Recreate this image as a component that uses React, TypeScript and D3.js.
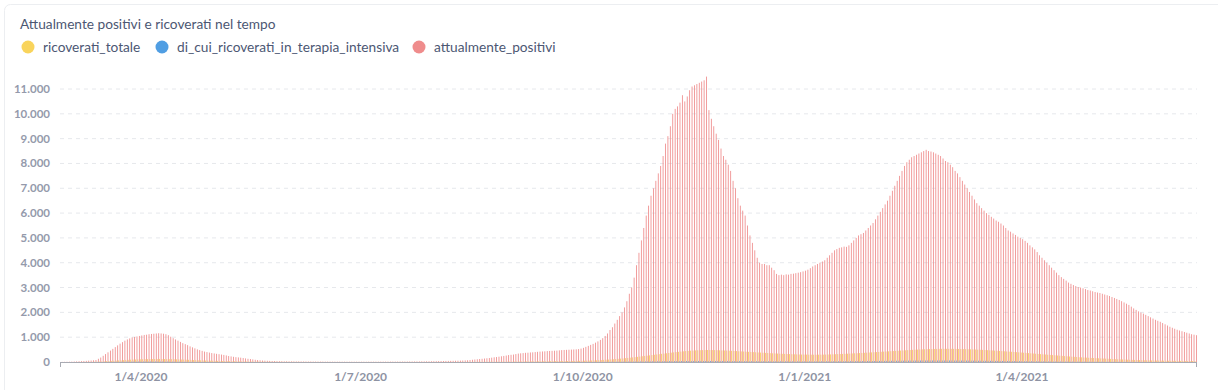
import * as d3 from 'd3'
import React from 'react'

// daily values, from 28/2/2020 to 12/6/2021
const startDay = new Date(2020, 1, 28)

const seriesNames = ['ricoverati_totale', 'di_cui_ricoverati_in_terapia_intensiva', 'attualmente_positivi']
const seriesColors = ['#F9D45C', '#509EE3', '#EF8C8C']

const attualmentePositivi = [
  5, 8,
  // mar 2020
  10, 12, 15, 20, 25, 30, 35, 40, 45, 55, 60, 70, 80, 130, 180, 250, 320, 390, 460, 530, 600, 670, 740, 800, 860, 910, 950, 990, 1010, 1030, 1050,
  // apr
  1070, 1090, 1100, 1120, 1130, 1140, 1150, 1160, 1150, 1140, 1120, 1080, 1020, 960, 910, 860, 810, 760, 720, 680, 630, 590, 550, 510, 480, 450, 420, 400, 380, 360,
  // may
  345, 330, 315, 300, 285, 265, 240, 225, 210, 195, 185, 175, 160, 145, 130, 120, 105, 90, 80, 70, 60, 55, 50, 45, 40, 38, 35, 33, 30, 28, 27,
  // jun
  26, 25, 24, 23, 22, 21, 20, 20, 19, 18, 18, 17, 17, 16, 16, 15, 15, 15, 14, 14, 14, 13, 13, 13, 12, 12, 12, 12, 12, 12,
  // jul
  12, 12, 12, 13, 13, 13, 14, 14, 14, 15, 15, 15, 16, 16, 17, 17, 18, 18, 19, 20, 20, 21, 22, 23, 24, 25, 26, 27, 28, 30, 32,
  // aug
  34, 36, 38, 40, 42, 44, 46, 48, 50, 53, 56, 60, 65, 70, 80, 90, 100, 110, 120, 130, 140, 150, 160, 175, 190, 200, 215, 230, 245, 260, 280,
  // sep
  290, 300, 320, 340, 350, 360, 370, 375, 385, 390, 400, 410, 420, 425, 430, 440, 445, 450, 455, 460, 470, 480, 485, 490, 495, 500, 505, 510, 520, 540,
  // oct
  570, 610, 650, 690, 730, 780, 830, 890, 960, 1050, 1150, 1290, 1400, 1550, 1700, 1850, 2000, 2200, 2450, 2750, 3000, 3400, 3900, 4400, 4900, 5400, 5900, 6300, 6700, 7000, 7300,
  // nov
  7600, 7900, 8300, 8800, 9100, 9500, 10000, 10200, 10300, 10450, 10750, 10500, 10700, 10950, 11100, 11150, 11200, 11250, 11300, 11350, 11500, 10150, 9800, 9500, 9200, 8950, 8600, 8300, 8150, 7950,
  // dec
  7700, 7300, 7000, 6600, 6300, 6100, 5900, 5500, 5100, 4800, 4500, 4200, 4000, 3950, 3950, 3900, 3900, 3800, 3700, 3550, 3500, 3520, 3500, 3530, 3520, 3550, 3560, 3580, 3600, 3620, 3650,
  // jan 2021
  3680, 3720, 3780, 3850, 3900, 3950, 4000, 4050, 4100, 4200, 4300, 4400, 4500, 4550, 4600, 4620, 4650, 4640, 4700, 4800, 4900, 5000, 5100, 5150, 5200, 5300, 5400, 5500, 5600, 5750, 5900,
  // feb
  6050, 6200, 6350, 6500, 6700, 6900, 7100, 7300, 7500, 7700, 7900, 8050, 8150, 8250, 8300, 8350, 8400, 8450, 8500, 8550, 8500, 8480, 8450, 8400, 8350, 8300, 8200, 8100,
  // mar
  8050, 7950, 7850, 7700, 7600, 7450, 7300, 7150, 7000, 6850, 6700, 6550, 6400, 6300, 6200, 6100, 6000, 5930, 5850, 5780, 5700, 5650, 5580, 5500, 5400, 5300, 5250, 5180, 5120, 5050, 5000,
  // apr
  4950, 4880, 4800, 4700, 4620, 4540, 4430, 4300, 4200, 4100, 4000, 3900, 3800, 3700, 3600, 3500, 3420, 3350, 3280, 3200, 3150, 3100, 3060, 3020, 3000, 2970, 2940, 2900, 2880, 2850,
  // may
  2820, 2800, 2780, 2750, 2720, 2690, 2660, 2620, 2580, 2540, 2500, 2450, 2400, 2350, 2300, 2230, 2160, 2100, 2040, 1990, 1950, 1900, 1850, 1800, 1750, 1700, 1660, 1620, 1570, 1520, 1470,
  // jun
  1420, 1380, 1340, 1300, 1270, 1240, 1210, 1180, 1150, 1120, 1100, 1080,
]

const ricoveratiTotale = [
  0, 0,
  0, 0, 0, 0, 1, 1, 2, 3, 4, 5, 6, 8, 10, 14, 18, 22, 28, 34, 40, 46, 52, 58, 64, 70, 76, 82, 88, 94, 98, 102, 106,
  110, 112, 114, 116, 118, 120, 121, 122, 122, 121, 120, 118, 116, 114, 111, 108, 104, 100, 96, 92, 88, 84, 80, 76, 72, 68, 64, 60, 57, 54,
  51, 48, 45, 42, 40, 38, 36, 34, 32, 30, 28, 26, 24, 22, 20, 19, 18, 17, 16, 15, 14, 13, 12, 11, 10, 10, 9, 9, 8, 8, 8,
  7, 7, 7, 6, 6, 6, 5, 5, 5, 5, 4, 4, 4, 4, 4, 3, 3, 3, 3, 3, 3, 3, 3, 3, 3, 3, 3, 3, 3, 3,
  3, 3, 3, 3, 3, 3, 3, 3, 3, 3, 3, 3, 3, 3, 3, 3, 4, 4, 4, 4, 4, 4, 4, 4, 4, 4, 4, 4, 4, 4, 4,
  4, 4, 4, 4, 5, 5, 5, 5, 5, 5, 6, 6, 6, 6, 7, 7, 7, 8, 8, 8, 9, 9, 10, 10, 11, 11, 12, 12, 13, 14, 15,
  16, 17, 18, 19, 20, 21, 22, 23, 24, 25, 26, 27, 28, 29, 30, 31, 32, 33, 34, 35, 36, 37, 38, 39, 40, 41, 42, 44, 46, 48,
  50, 52, 55, 58, 62, 66, 70, 75, 80, 86, 92, 98, 105, 112, 120, 128, 136, 145, 155, 165, 175, 186, 197, 208, 220, 232, 244, 256, 268, 280, 292,
  304, 316, 328, 340, 352, 364, 376, 388, 400, 410, 420, 430, 440, 448, 456, 462, 468, 472, 476, 480, 482, 484, 484, 482, 480, 476, 472, 468, 464, 460,
  455, 450, 445, 440, 434, 428, 422, 416, 410, 404, 398, 392, 386, 380, 374, 368, 362, 356, 350, 345, 340, 335, 330, 326, 322, 318, 314, 310, 306, 302, 300,
  300, 298, 296, 295, 294, 294, 295, 296, 298, 300, 303, 306, 310, 314, 318, 322, 326, 330, 335, 340, 345, 350, 355, 360, 365, 370, 376, 382, 388, 394, 400,
  406, 412, 418, 424, 430, 436, 442, 448, 454, 460, 466, 472, 478, 484, 490, 495, 500, 505, 510, 514, 518, 521, 524, 526, 528, 530, 531, 532,
  532, 532, 531, 530, 528, 526, 524, 521, 518, 515, 511, 507, 503, 498, 493, 488, 483, 477, 471, 465, 459, 453, 446, 439, 432, 425, 418, 411, 404, 397, 390,
  382, 374, 366, 358, 350, 342, 334, 326, 318, 310, 302, 294, 286, 278, 270, 262, 254, 246, 238, 230, 222, 215, 208, 201, 194, 188, 182, 176, 170, 165,
  160, 155, 150, 145, 140, 135, 130, 125, 120, 115, 110, 106, 102, 98, 94, 90, 86, 83, 80, 77, 74, 71, 68, 66, 64, 62, 60, 58, 56, 54, 52,
  50, 49, 48, 47, 46, 45, 44, 43, 42, 41, 40, 39,
]

const terapiaIntensiva = [
  0, 0,
  0, 0, 0, 0, 0, 0, 0, 0, 1, 1, 1, 2, 2, 3, 3, 4, 5, 6, 7, 8, 9, 10, 11, 12, 13, 14, 15, 16, 17, 18, 19,
  20, 20, 21, 21, 21, 21, 20, 20, 19, 19, 18, 17, 16, 15, 14, 13, 12, 11, 10, 10, 9, 8, 8, 7, 7, 6, 6, 5, 5, 5,
  4, 4, 4, 3, 3, 3, 3, 2, 2, 2, 2, 2, 2, 1, 1, 1, 1, 1, 1, 1, 1, 1, 1, 1, 1, 1, 0, 0, 0, 0, 0,
  0, 0, 0, 0, 0, 0, 0, 0, 0, 0, 0, 0, 0, 0, 0, 0, 0, 0, 0, 0, 0, 0, 0, 0, 0, 0, 0, 0, 0, 0,
  0, 0, 0, 0, 0, 0, 0, 0, 0, 0, 0, 0, 0, 0, 0, 0, 0, 0, 0, 0, 0, 0, 0, 0, 0, 0, 0, 0, 0, 0, 0,
  0, 0, 0, 0, 0, 0, 0, 0, 0, 0, 0, 0, 0, 0, 0, 0, 0, 0, 0, 0, 1, 1, 1, 1, 1, 1, 1, 1, 1, 1, 1,
  1, 1, 1, 1, 1, 1, 2, 2, 2, 2, 2, 2, 2, 2, 3, 3, 3, 3, 3, 3, 3, 4, 4, 4, 4, 4, 4, 5, 5, 5,
  5, 5, 6, 6, 6, 7, 7, 8, 8, 9, 9, 10, 10, 11, 12, 13, 14, 15, 16, 17, 18, 19, 20, 21, 22, 23, 24, 25, 26, 27, 28,
  29, 30, 31, 32, 33, 34, 35, 36, 37, 38, 39, 40, 40, 41, 41, 42, 42, 42, 42, 42, 41, 41, 40, 40, 39, 39, 38, 38, 37, 37,
  36, 36, 35, 35, 34, 34, 33, 33, 32, 32, 31, 31, 30, 30, 30, 29, 29, 29, 28, 28, 28, 27, 27, 27, 27, 26, 26, 26, 26, 26, 26,
  26, 26, 26, 26, 26, 26, 27, 27, 27, 28, 28, 28, 29, 29, 30, 30, 31, 31, 32, 32, 33, 33, 34, 35, 36, 37, 38, 39, 40, 41, 42,
  43, 44, 45, 46, 47, 48, 49, 50, 51, 52, 53, 54, 55, 56, 57, 58, 58, 59, 59, 60, 60, 60, 60, 60, 60, 60, 60, 60,
  60, 60, 59, 59, 58, 58, 57, 57, 56, 55, 54, 53, 52, 51, 50, 49, 48, 47, 46, 45, 44, 43, 42, 41, 40, 39, 38, 37, 36, 35, 34,
  33, 32, 31, 30, 29, 28, 27, 26, 25, 24, 23, 22, 21, 20, 19, 18, 18, 17, 17, 16, 16, 15, 15, 14, 14, 13, 13, 12, 12, 11,
  11, 11, 10, 10, 10, 9, 9, 9, 8, 8, 8, 7, 7, 7, 6, 6, 6, 6, 5, 5, 5, 5, 5, 4, 4, 4, 4, 4, 4, 3, 3,
  3, 3, 3, 3, 3, 3, 3, 3, 3, 3, 3, 3,
]

const yTicks = [0, 1000, 2000, 3000, 4000, 5000, 6000, 7000, 8000, 9000, 10000, 11000]
const xTickDates = [new Date(2020, 3, 1), new Date(2020, 6, 1), new Date(2020, 9, 1), new Date(2021, 0, 1), new Date(2021, 3, 1)]

const itLocale = d3.formatLocale({ decimal: ',', thousands: '.', grouping: [3], currency: ['€', ''] })
const fmtY = itLocale.format(',')
const fmtDate = d3.timeFormat('%-d/%-m/%Y')

const App = () => {
  const totalWidth = 1218
  const totalHeight = 390
  const left = 60
  const right = 1197
  const baseY = 362

  const n = attualmentePositivi.length
  const seriesData = [ricoveratiTotale, terapiaIntensiva, attualmentePositivi]

  const xScale = d3.scaleBand<number>().domain(d3.range(n)).range([left, right]).paddingInner(0.08).paddingOuter(0.1)
  const xInner = d3.scaleBand<number>().domain([0, 1, 2]).range([0, xScale.bandwidth()])
  const yScale = d3.scaleLinear().domain([0, 11000]).range([baseY, 89])

  const font = 'Lato, "Noto Sans", sans-serif'

  const legendX = [28, 162, 419]

  return (
    <div style={{ position: 'absolute', left: 0, top: 0 }}>
      <svg width={totalWidth} height={totalHeight} style={{ display: 'block' }}>
        <rect x={4.5} y={4.5} width={1230} height={400} rx={6} fill="#fff" stroke="#eceef1" />
        <text x={20} y={29} fontFamily={font} fontSize={13.7} fill="#4c5773">
          Attualmente positivi e ricoverati nel tempo
        </text>
        {seriesNames.map((name, i) => (
          <g key={name} transform={`translate(${legendX[i]},47)`}>
            <circle r={6.5} fill={seriesColors[i]} />
            <text x={15} y={4.5} fontFamily={font} fontSize={13.7} fill="#4c5773">
              {name}
            </text>
          </g>
        ))}

        {/* horizontal grid */}
        {yTicks.slice(1).map((t) => (
          <line key={t} x1={left} x2={right} y1={yScale(t)} y2={yScale(t)} stroke="#e6e8ec" strokeDasharray="4,4" />
        ))}
        {yTicks.map((t) => (
          <text
            key={'l' + t}
            x={50}
            y={yScale(t) + 4}
            textAnchor="end"
            fontFamily={font}
            fontWeight="bold"
            fontSize={11.5}
            fill="#949aab"
          >
            {fmtY(t)}
          </text>
        ))}

        {/* grouped bars */}
        {seriesData.map((vals, s) => (
          <g key={s} fill={seriesColors[s]}>
            {vals.map((v, i) =>
              v > 0 ? (
                <rect
                  key={i}
                  x={(xScale(i) as number) + (xInner(s) as number)}
                  y={yScale(v)}
                  width={xInner.bandwidth() * 1.15}
                  height={baseY - yScale(v)}
                />
              ) : null
            )}
          </g>
        ))}

        {/* x axis */}
        <line x1={left} x2={right} y1={baseY + 0.5} y2={baseY + 0.5} stroke="#a9abb3" />
        <line x1={left + 0.5} x2={left + 0.5} y1={baseY} y2={baseY + 5} stroke="#a9abb3" />
        <line x1={right - 0.5} x2={right - 0.5} y1={baseY} y2={baseY + 5} stroke="#a9abb3" />
        {xTickDates.map((d) => {
          const idx = d3.timeDay.count(startDay, d)
          const cx = (xScale(idx) as number) + xScale.bandwidth() / 2
          return (
            <text
              key={d.getTime()}
              x={cx}
              y={381}
              textAnchor="middle"
              fontFamily={font}
              fontWeight="bold"
              fontSize={12}
              fill="#8e93a3"
            >
              {fmtDate(d)}
            </text>
          )
        })}
      </svg>
    </div>
  )
}

export default App
